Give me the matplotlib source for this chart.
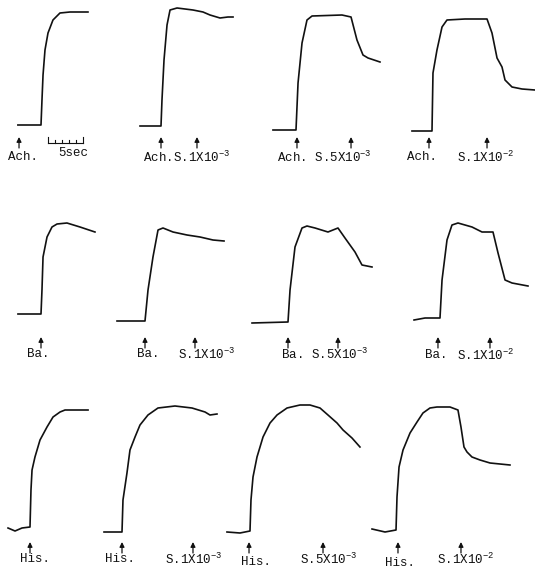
import numpy as np
import matplotlib
matplotlib.use("Agg")
import matplotlib.pyplot as plt
import matplotlib.transforms as mtransforms

plt.rcParams['font.family'] = ['Liberation Mono', 'DejaVu Sans Mono']
plt.rcParams['mathtext.fontset'] = 'custom'
plt.rcParams['mathtext.rm'] = 'Liberation Mono'
plt.rcParams['mathtext.it'] = 'Liberation Mono'
plt.rcParams['mathtext.default'] = 'rm'

W, H = 535, 570
PX_PER_SEC = 7.0   # chart speed: 5 sec = 35 px

# ---- traces: time (s, from onset of contraction) and pen deflection (units) ----
ach_ctrl_t = [-3.3, 0, 0.14, 0.29, 0.57, 1.0, 1.71, 2.71, 4.14, 6.71]
ach_ctrl_a = [0, 0, 25, 50, 75, 92, 105, 112, 113, 113]
ach_s1e3_t = [-3.0, 0, 0.14, 0.43, 0.86, 1.29, 2.29, 4.57, 6.0, 7.0, 8.43, 9.57, 10.29]
ach_s1e3_a = [0, 0, 26, 66, 101, 116, 118, 116, 114, 111, 108, 109, 109]
ach_s5e3_t = [-3.29, 0, 0.29, 0.86, 1.57, 2.29, 6.57, 7.86, 8.71, 9.57, 10.29, 12.0]
ach_s5e3_a = [0, 0, 47, 87, 110, 114, 115, 113, 90, 75, 72, 68]
ach_s1e2_t = [-2.86, 0, 0.14, 0.71, 1.43, 2.14, 4.71, 7.86, 8.57, 9.29, 10.0, 10.43,
              11.43, 12.86, 14.71]
ach_s1e2_a = [0, 0, 58, 81, 104, 111, 112, 112, 98, 73, 64, 51, 44, 42, 41]

ba_ctrl_t = [-3.29, 0, 0.14, 0.29, 0.86, 1.57, 2.29, 3.71, 5.57, 7.71]
ba_ctrl_a = [0, 0, 24, 57, 77, 87, 90, 91, 87, 82]
ba_s1e3_t = [-4.0, 0, 0.43, 1.14, 1.86, 2.57, 4.0, 6.0, 7.86, 9.71, 11.29]
ba_s1e3_a = [0, 0, 31, 64, 91, 93, 89, 86, 84, 81, 80]
ba_s5e3_t = [-5.14, 0, 0.29, 1.0, 2.0, 2.71, 3.86, 5.71, 7.14, 8.14, 9.57, 10.57, 12.0]
ba_s5e3_a = [0, 1, 33, 76, 95, 97, 95, 91, 95, 85, 71, 58, 56]
ba_s1e2_t = [-3.71, -2.14, 0, 0.29, 1.0, 1.71, 2.57, 4.57, 6.0, 7.57, 8.29, 9.29,
             10.29, 12.57]
ba_s1e2_a = [-1, 1, 1, 39, 79, 94, 96, 92, 87, 87, 66, 39, 36, 33]

his_ctrl_t = [-3.14, -2.14, -1.14, 0, 0.14, 0.29, 0.71, 1.43, 2.43, 3.29, 4.29, 5.0, 8.29]
his_ctrl_a = [1, -2, 1, 2, 39, 59, 72, 89, 102, 112, 117, 119, 119]
his_s1e3_t = [-2.57, 0, 0.14, 0.71, 1.14, 1.86, 2.57, 3.71, 5.14, 7.57, 10.0, 11.86,
              12.57, 13.57]
his_s1e3_a = [0, 0, 32, 59, 82, 95, 107, 117, 124, 126, 124, 120, 117, 118]
his_s5e3_t = [-3.29, -1.43, 0, 0.14, 0.43, 1.0, 1.86, 2.86, 3.86, 5.29, 7.14, 8.57,
              10.0, 11.14, 12.43, 13.29, 14.57, 15.71]
his_s5e3_a = [0, -1, 1, 32, 55, 75, 95, 109, 117, 124, 127, 127, 124, 117, 109, 102,
              94, 85]
his_s1e2_t = [-3.57, -1.71, -0.14, 0, 0.29, 0.86, 1.86, 2.86, 3.71, 4.71, 5.71, 7.57,
              8.71, 9.14, 9.57, 10.0, 10.71, 11.86, 13.29, 16.14]
his_s1e2_a = [1, -2, 0, 33, 63, 80, 97, 108, 117, 122, 123, 123, 120, 103, 83, 78,
              73, 70, 67, 65]

# arrow times (s): agonist, then S. if given
arrows = [[-3.14], [0, 5.14], [0.14, 7.86], [-0.43, 7.86],
          [0], [0, 7.14], [0, 7.14], [-0.29, 7.14],
          [0], [0, 10.14], [-0.14, 10.43], [0.14, 9.14]]

traces = [(ach_ctrl_t, ach_ctrl_a), (ach_s1e3_t, ach_s1e3_a),
          (ach_s5e3_t, ach_s5e3_a), (ach_s1e2_t, ach_s1e2_a),
          (ba_ctrl_t, ba_ctrl_a), (ba_s1e3_t, ba_s1e3_a),
          (ba_s5e3_t, ba_s5e3_a), (ba_s1e2_t, ba_s1e2_a),
          (his_ctrl_t, his_ctrl_a), (his_s1e3_t, his_s1e3_a),
          (his_s5e3_t, his_s5e3_a), (his_s1e2_t, his_s1e2_a)]

# labels: (text, left px, y px)
labels = [
    [("Ach.", 8, 157)],
    [("Ach.S.1X10$^{-3}$", 143, 157)],
    [("Ach. S.5X10$^{-3}$", 277, 157)],
    [("Ach.", 407, 157), ("S.1X10$^{-2}$", 457, 157)],
    [("Ba.", 27, 354)],
    [("Ba.", 137, 354), ("S.1X10$^{-3}$", 178, 354)],
    [("Ba. S.5X10$^{-3}$", 281, 354)],
    [("Ba.", 425, 355), ("S.1X10$^{-2}$", 457, 355)],
    [("His.", 20, 559)],
    [("His.", 105, 559), ("S.1X10$^{-3}$", 165, 559)],
    [("His.", 241, 562), ("S.5X10$^{-3}$", 300, 559)],
    [("His.", 385, 563), ("S.1X10$^{-2}$", 437, 559)],
]

# layout: onset x px and baseline y px of each panel
origins = [(41, 125), (161, 126), (296, 130), (432, 131),
           (41, 314), (145, 321), (288, 323), (440, 319),
           (30, 529), (122, 532), (250, 532), (397, 530)]
arrow_rows = [(137, 148), (337, 348), (542, 553)]

ink = "#111111"
fig = plt.figure(figsize=(W / 100, H / 100), dpi=100)
fig.patch.set_facecolor("white")
px = mtransforms.Affine2D().scale(1 / W, -1 / H).translate(0, 1) + fig.transFigure

for i, ((t, a), (x0, y0)) in enumerate(zip(traces, origins)):
    left_px, right_px, up_px, down_px = 45, 130, 140, 10
    ax = fig.add_axes([(x0 - left_px) / W, (H - (y0 + down_px)) / H,
                       (left_px + right_px) / W, (up_px + down_px) / H])
    ax.set_xlim(-left_px / PX_PER_SEC, right_px / PX_PER_SEC)
    ax.set_ylim(-down_px, up_px)
    ax.axis("off")
    ax.patch.set_alpha(0)
    ax.plot(t, a, color=ink, lw=1.2, solid_joinstyle="round", clip_on=False)

    tr = mtransforms.blended_transform_factory(ax.transData, px)
    tip, tail = arrow_rows[i // 4]
    for ta in arrows[i]:
        ax.annotate("", xy=(ta, tip), xytext=(ta, tail), xycoords=tr, textcoords=tr,
                    annotation_clip=False,
                    arrowprops=dict(arrowstyle="-|>", color=ink, lw=0.9,
                                    mutation_scale=7, shrinkA=0, shrinkB=0))
    if i == 0:
        # 5 sec time scale
        ax.plot([1, 6], [143, 143], color=ink, lw=0.8, transform=tr, clip_on=False)
        for k in range(6):
            top = 137 if k in (0, 5) else 140
            ax.plot([1 + k, 1 + k], [143, top], color=ink, lw=0.8,
                    transform=tr, clip_on=False)
        fig.text(58, 153, "5sec", transform=px, fontsize=9, color=ink,
                 ha="left", va="center")

    for s, lx, ly in labels[i]:
        fig.text(lx, ly, s, transform=px, fontsize=9, color=ink,
                 ha="left", va="center")

fig.savefig("out.png", dpi=100, facecolor="white")
